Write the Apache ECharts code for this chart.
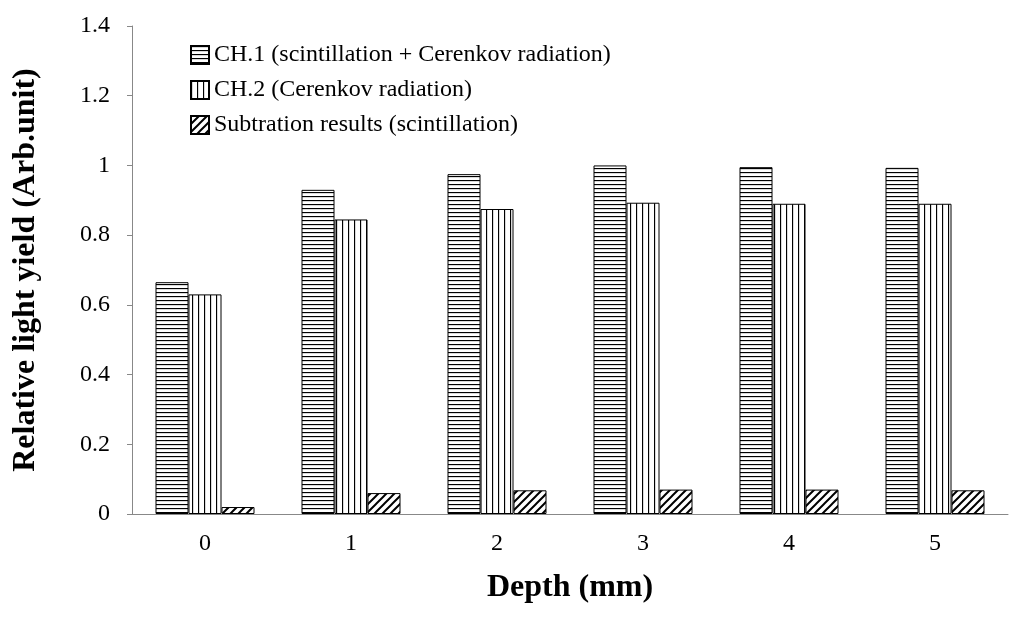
<!DOCTYPE html>
<html><head><meta charset="utf-8">
<script src="https://cdn.jsdelivr.net/npm/echarts@6/dist/echarts.min.js"></script>
<style>html,body{margin:0;background:#fff}#c{width:1024px;height:621px}</style>
</head><body><div id="c"></div>
<script>
const categories = ['0','1','2','3','4','5'];
const ch1 = [0.665, 0.93, 0.975, 1.0, 0.995, 0.993];
const ch2 = [0.63, 0.845, 0.875, 0.893, 0.89, 0.89];
const sub = [0.02, 0.06, 0.068, 0.07, 0.07, 0.068];
const names = ['CH.1 (scintillation + Cerenkov radiation)','CH.2 (Cerenkov radiation)','Subtration results (scintillation)'];

function pat(kind){
  const c=document.createElement('canvas');
  const s = kind==='d'?8:(kind==='h'?4:6);
  c.width=s;c.height=s;const g=c.getContext('2d');
  g.fillStyle='#fff';g.fillRect(0,0,s,s);g.strokeStyle='#000';g.lineWidth=1.3;
  g.beginPath();
  if(kind==='h'){g.moveTo(0,0.5);g.lineTo(s,0.5);}
  else if(kind==='v'){g.moveTo(0.5,0);g.lineTo(0.5,s);}
  else {g.lineWidth=2;g.moveTo(0,s);g.lineTo(s,0);g.moveTo(-2,2);g.lineTo(2,-2);g.moveTo(s-2,s+2);g.lineTo(s+2,s-2);}
  g.stroke();return c;
}
const font='Liberation Serif';
function ser(name,data,k){return {name,type:'bar',data,barWidth:33,barGap:'0%',
  itemStyle:{color:{image:pat(k),repeat:'repeat'},borderColor:'#000',borderWidth:1}};}
const chart=echarts.init(document.getElementById('c'));
chart.setOption({
  animation:false,
  textStyle:{fontFamily:font},
  grid:{left:132,right:16,top:26,bottom:107},
  legend:{orient:'vertical',left:185,top:38,itemGap:11,itemWidth:18,itemHeight:18,icon:'rect',
    textStyle:{fontFamily:font,fontSize:24,color:'#000'},data:names},
  xAxis:{type:'category',data:categories,name:'Depth (mm)',nameLocation:'middle',nameGap:58,
    nameTextStyle:{fontFamily:font,fontSize:32,fontWeight:'bold',color:'#000'},
    axisLine:{lineStyle:{color:'#888'}},axisTick:{show:false},
    axisLabel:{fontFamily:font,fontSize:24,color:'#000',margin:18}},
  yAxis:{type:'value',min:0,max:1.4,interval:0.2,name:'Relative light yield (Arb.unit)',
    nameLocation:'middle',nameGap:90,
    nameTextStyle:{fontFamily:font,fontSize:32,fontWeight:'bold',color:'#000'},
    axisLine:{show:true,lineStyle:{color:'#888'}},axisTick:{show:true,length:5,lineStyle:{color:'#888'}},
    splitLine:{show:false},
    axisLabel:{fontFamily:font,fontSize:24,color:'#000',margin:22,formatter:v=>+v.toFixed(1)+''}},
  series:[ser(names[0],ch1,'h'),ser(names[1],ch2,'v'),ser(names[2],sub,'d')]
});
</script></body></html>
